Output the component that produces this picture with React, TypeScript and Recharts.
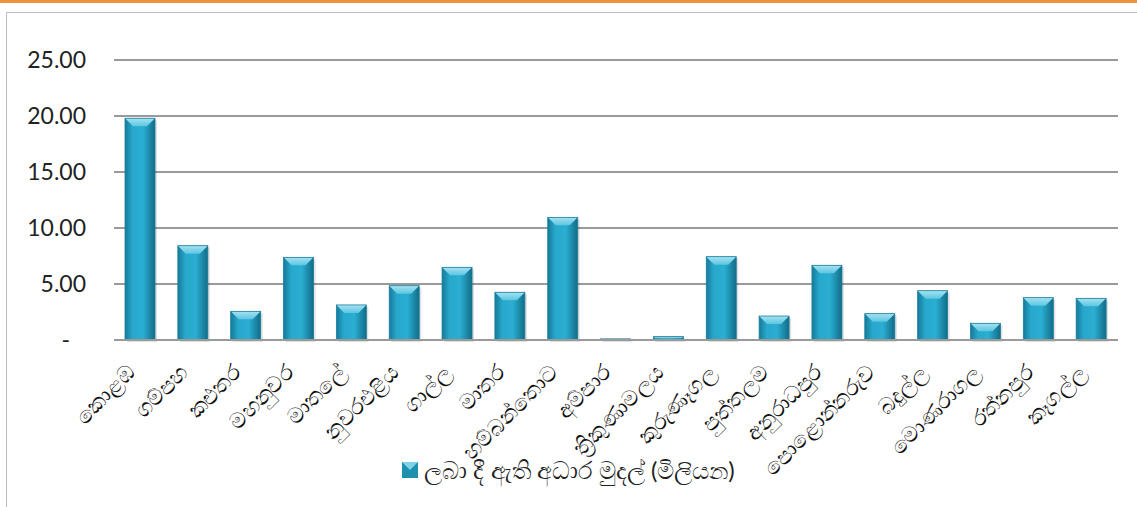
import React from 'react';
import { BarChart, Bar, XAxis, YAxis, CartesianGrid, Legend } from 'recharts';

const districts = [
  'කොළඹ', 'ගම්පහ', 'කළුතර', 'මහනුවර', 'මාතලේ', 'නුවරඑළිය', 'ගාල්ල', 'මාතර', 'හම්බන්තොට',
  'අම්පාර', 'ත්‍රිකුණාමලය', 'කුරුණෑගල', 'පුත්තලම', 'අනුරාධපුර', 'පොළොන්නරුව', 'බදුල්ල',
  'මොණරාගල', 'රත්නපුර', 'කෑගල්ල',
];
const amounts = [19.8, 8.42, 2.56, 7.38, 3.13, 4.85, 6.49, 4.26, 10.95, 0.1, 0.3, 7.44, 2.14, 6.67, 2.35, 4.4, 1.49, 3.78, 3.72];
const yTicks = [0, 5, 10, 15, 20, 25];
const seriesName = 'ලබා දී ඇති අධාර මුදල් (මිලියන)';

const data = districts.map((name, i) => ({ name, value: amounts[i] }));

const FONT = 'Lato, "Open Sans", "Noto Sans", sans-serif';

const BevelBar = (props: any) => {
  const { x, y, width, height } = props;
  if (height <= 0) return null;
  const b = Math.min(8, height / 2, width / 2);
  return (
    <g>
      <rect x={x + 2} y={y + 2} width={width} height={height} fill="#000" opacity={0.12} />
      <rect x={x} y={y} width={width} height={height} fill="url(#barGrad)" />
      <polygon
        points={`${x},${y} ${x + width},${y} ${x + width - b},${y + b} ${x + b},${y + b}`}
        fill="url(#topGrad)"
      />
      <rect x={x} y={y} width={width} height={height} fill="none" stroke="#1b7f9c" strokeWidth={0.8} />
    </g>
  );
};

const YTick = (props: any) => {
  const { y, payload } = props;
  const label = payload.value === 0 ? '-' : payload.value.toFixed(2);
  return (
    <text x={payload.value === 0 ? 70 : 86} y={y} dy={8} textAnchor="end" fontSize={23} fill="#222" fontFamily={FONT}>
      {label}
    </text>
  );
};

const XTick = (props: any) => {
  const { x, y, payload } = props;
  return (
    <g transform={`translate(${x - 4},${y + 26})`}>
      <text textAnchor="end" transform="rotate(-45)" fontSize={22} fill="#111" fontFamily={FONT}>
        {payload.value}
      </text>
    </g>
  );
};

const LegendContent = () => (
  <div style={{ height: 30, display: 'flex', alignItems: 'center', justifyContent: 'center', fontFamily: FONT, fontSize: 24, color: '#222' }}>
    <svg width={17} height={17} style={{ marginRight: 5 }}>
      <rect x={0} y={0} width={16} height={16} fill="#1f8fb0" />
      <polygon points="0,0 16,0 8,8" fill="#7fd3e8" />
    </svg>
    <span>{seriesName}</span>
  </div>
);

const App = () => {
  return (
    <div style={{ position: 'fixed', left: 0, top: 0, width: 1137, height: 507, background: '#fff', overflow: 'hidden' }}>
      <div style={{ position: 'absolute', left: 0, top: 0, width: 1137, height: 3, background: '#f0913a' }} />
      <div style={{ position: 'absolute', left: 6, top: 12, width: 1200, height: 600, border: '1px solid #bdbdbd' }} />
      <div style={{ position: 'absolute', left: 0, top: 0 }}>
        <BarChart width={1137} height={507} data={data} margin={{ top: 60, right: 19, bottom: 0, left: 0 }} barSize={30}>
          <defs>
            <linearGradient id="barGrad" x1="0" y1="0" x2="1" y2="0">
              <stop offset="0%" stopColor="#157a99" />
              <stop offset="25%" stopColor="#27a8cc" />
              <stop offset="60%" stopColor="#2aaed2" />
              <stop offset="100%" stopColor="#126c88" />
            </linearGradient>
            <linearGradient id="topGrad" x1="0" y1="0" x2="0" y2="1">
              <stop offset="0%" stopColor="#a6e2f1" />
              <stop offset="100%" stopColor="#5cc6e2" />
            </linearGradient>
          </defs>
          <CartesianGrid vertical={false} stroke="#9a9a9a" strokeWidth={2} />
          <XAxis
            dataKey="name"
            interval={0}
            height={137}
            axisLine={{ stroke: '#9a9a9a', strokeWidth: 2 }}
            tickLine={false}
            tick={<XTick />}
          />
          <YAxis
            domain={[0, 25]}
            ticks={yTicks}
            width={114}
            axisLine={false}
            tickLine={false}
            tick={<YTick />}
          />
          <Legend
            verticalAlign="bottom"
            content={<LegendContent />}
            wrapperStyle={{ top: 455, left: 0, width: 1137 }}
          />
          <Bar dataKey="value" name={seriesName} shape={<BevelBar />} isAnimationActive={false} />
        </BarChart>
      </div>
    </div>
  );
};

export default App;
